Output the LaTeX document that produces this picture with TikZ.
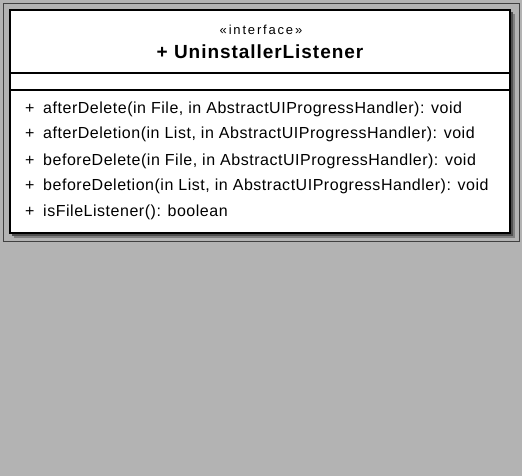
\documentclass[tikz,border=0pt]{standalone}
\usepackage{fontspec}
\setmainfont{Liberation Sans}
\newfontfamily\methfont[LetterSpace=3.3]{Liberation Sans}
\newfontfamily\titlefont[LetterSpace=5]{Liberation Sans}
\newfontfamily\stereofont[LetterSpace=14]{Liberation Sans}
\definecolor{bg}{HTML}{B3B3B3}
\definecolor{shadowdark}{HTML}{505050}
\definecolor{shadowmid}{HTML}{808080}
\definecolor{framecol}{HTML}{404040}
\begin{document}
\begin{tikzpicture}[x=1pt,y=-1pt,
  meth/.style={anchor=base west,inner sep=0pt,font=\methfont\fontsize{16}{19}\selectfont},
  plus/.style={anchor=base west,inner sep=0pt,font=\methfont\fontsize{16}{19}\selectfont},
  sep/.style={line width=2pt,black}]
\fill[bg] (0,0) rectangle (522,476);
\useasboundingbox (0,0) rectangle (522,476);
% panel frame
\draw[framecol,line width=1pt] (3.5,3.5) rectangle (519.5,241.5);
% shadow
\fill[shadowmid] (14,14) rectangle (515,238);
\fill[shadowdark] (12,12) rectangle (513,236);
% class box
\draw[line width=2pt,fill=white] (10,10) rectangle (510,233);
\coordinate (s1l) at (10,73); \coordinate (s1r) at (510,73);
\coordinate (s2l) at (10,90); \coordinate (s2r) at (510,90);
\draw[sep] (s1l) -- (s1r);
\draw[sep] (s2l) -- (s2r);
% header
\node[anchor=base,inner sep=0pt,font=\stereofont\fontsize{13}{15}\selectfont] (stereo) at (261,35) {«interface»};
\node[anchor=base,inner sep=0pt,font=\titlefont\fontsize{19}{22}\selectfont\bfseries] (title) at (260,59) {+ UninstallerListener};
% methods
\node[plus] (p1) at (25,113.5) {+};
\node[meth] (m1) at (43,113.5) {afterDelete(in File, in AbstractUIProgressHandler): void};
\node[plus] (p2) at (25,139) {+};
\node[meth] (m2) at (43,139) {afterDeletion(in List, in AbstractUIProgressHandler): void};
\node[plus] (p3) at (25,165) {+};
\node[meth] (m3) at (43,165) {beforeDelete(in File, in AbstractUIProgressHandler): void};
\node[plus] (p4) at (25,190.5) {+};
\node[meth] (m4) at (43,190.5) {beforeDeletion(in List, in AbstractUIProgressHandler): void};
\node[plus] (p5) at (25,216) {+};
\node[meth] (m5) at (43,216) {isFileListener(): boolean};
\end{tikzpicture}
\end{document}
